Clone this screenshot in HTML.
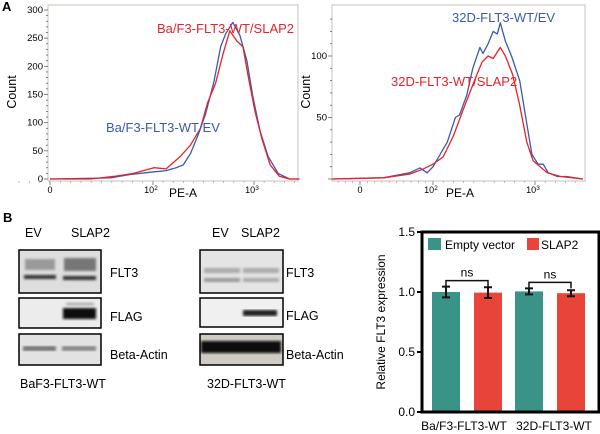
<!DOCTYPE html>
<html><head><meta charset="utf-8"><style>
html,body{margin:0;padding:0;background:#fff;width:600px;height:434px;overflow:hidden}
svg{display:block;font-family:"Liberation Sans",Arial,sans-serif}
</style></head><body>
<svg id="fig" width="600" height="434" viewBox="0 0 600 434">
<defs>
<filter id="blur1"><feGaussianBlur stdDeviation="1.4"/></filter>
</defs>
<text x="2" y="11" font-size="13" font-weight="bold">A</text>
<text x="3" y="222" font-size="13" font-weight="bold">B</text>
<g id="histL"></g>
<g id="histR"></g>

<g font-size="12.5">
<text x="25" y="237">EV</text>
<text x="71" y="237">SLAP2</text>
<rect x="19" y="250" width="82" height="43" fill="#dedede" stroke="#000" stroke-width="1.5"/>
<g filter="url(#blur1)">
<rect x="25" y="259" width="30" height="11" fill="#9a9a9a"/><rect x="64" y="258" width="32" height="13" fill="#767676"/>
<rect x="24" y="275" width="32" height="4" fill="#333"/><rect x="63" y="276" width="33" height="4" fill="#333"/>
</g>
<rect x="19" y="298" width="82" height="30" fill="#ececec" stroke="#000" stroke-width="1.5"/>
<g filter="url(#blur1)"><rect x="63" y="308" width="33" height="11" fill="#111"/><rect x="66" y="303" width="28" height="2" fill="#999"/></g>
<rect x="19" y="334" width="82" height="31" fill="#e2e2e2" stroke="#000" stroke-width="1.5"/>
<g filter="url(#blur1)"><rect x="23" y="346" width="33" height="5" fill="#777"/><rect x="62" y="346" width="34" height="5" fill="#888"/></g>
<text x="110" y="277">FLT3</text>
<text x="110" y="321">FLAG</text>
<text x="110" y="359">Beta-Actin</text>
<text x="20" y="388">BaF3-FLT3-WT</text>
</g>
<g font-size="12.5">
<text x="212" y="237">EV</text>
<text x="241" y="237">SLAP2</text>
<rect x="200" y="250" width="83" height="43" fill="#e4e4e4" stroke="#000" stroke-width="1.5"/>
<g filter="url(#blur1)"><rect x="204" y="268" width="36" height="5" fill="#aaa"/><rect x="243" y="268" width="36" height="5" fill="#aaa"/>
<rect x="204" y="278" width="36" height="4" fill="#999"/><rect x="243" y="278" width="36" height="4" fill="#aaa"/></g>
<rect x="200" y="298" width="83" height="29" fill="#f0f0f0" stroke="#000" stroke-width="1.5"/>
<g filter="url(#blur1)"><rect x="243" y="310" width="34" height="6" fill="#222"/></g>
<rect x="200" y="334" width="83" height="31" fill="#cfcac4" stroke="#000" stroke-width="1.5"/>
<g filter="url(#blur1)"><rect x="201" y="341" width="80" height="12" fill="#111"/></g>
<text x="286" y="277">FLT3</text>
<text x="286" y="320">FLAG</text>
<text x="286" y="359">Beta-Actin</text>
<text x="207" y="388">32D-FLT3-WT</text>
</g>
<g id="bar"></g>
</svg>
<script>
const NS='http://www.w3.org/2000/svg';
function mk(p,tag,at,txt){const e=document.createElementNS(NS,tag);for(const k in at)e.setAttribute(k,at[k]);if(txt!==undefined)e.textContent=txt;p.appendChild(e);return e;}

const leftRedX=[0,0.39,0.64,0.81,1.01,1.13,1.27,1.37,1.47,1.54,1.62,1.69,1.76,1.83,1.89,1.94,2.01,2.08,2.16,2.25,2.35,2.45];
const leftRedY=[0,0,5,10,20,18,40,60,90,135,170,220,263,245,235,185,120,70,25,5,0,0];
const leftBlueX=[0,0.59,0.78,0.98,1.13,1.23,1.30,1.37,1.44,1.52,1.60,1.67,1.72,1.79,1.86,1.93,1.99,2.06,2.14,2.24,2.35,2.45];
const leftBlueY=[0,2,8,12,15,20,25,45,75,115,170,235,258,278,255,210,145,85,40,10,0,0];
const rightBlueX=[-0.38,0.32,0.68,0.82,0.92,1.0,1.07,1.14,1.22,1.26,1.33,1.39,1.46,1.49,1.54,1.59,1.63,1.66,1.71,1.77,1.85,1.92,1.97,2.03,2.08,2.13,2.22,2.31,2.47];
const rightBlueY=[0,1,5,9,5,10,20,30,50,52,68,90,107,102,110,120,118,127,112,100,80,45,20,12,12,5,2,2,0];
const rightRedX=[-0.38,0.32,0.68,0.86,1.0,1.10,1.20,1.29,1.36,1.43,1.48,1.54,1.59,1.66,1.71,1.78,1.85,1.92,1.98,2.05,2.12,2.25,2.47];
const rightRedY=[0,1,4,8,12,18,35,55,70,85,95,100,98,107,100,85,60,30,15,10,5,2,0];
const leftYTicks=[0,50,100,150,200,250,300];
const rightYTicks=[0,50,100];

function hist(g,o){
  const sx=t=>t<1?o.x0+(o.x1-o.x0)*t:o.x1+(o.x2-o.x1)*(t-1);
  const sy=v=>o.yb-v*o.ppu;
  mk(g,'rect',{x:o.L,y:5,width:o.R-o.L,height:o.yb+2-5,fill:'none',stroke:'#c8c0b8','stroke-width':1,});
  for(let v=0;v<=o.ymax;v+=o.minor){mk(g,'line',{x1:o.L-(v%o.major===0?4:2),x2:o.L,y1:sy(v),y2:sy(v),stroke:'#666','stroke-width':0.8});}
  o.yt.forEach(v=>{mk(g,'text',{x:o.L-5,y:sy(v)+3,'font-size':9.5,'text-anchor':'end',},String(v));});
  [[0,'0'],[1,'10'],[2,'10']].forEach(([t,s],i)=>{const e=mk(g,'text',{x:sx(t)-(i?2:0),y:o.yb+14,'font-size':9,'text-anchor':'middle',},s);if(i){mk(e,'tspan',{dy:-3,'font-size':6.5},i===1?'2':'3');}
    mk(g,'line',{x1:sx(t),x2:sx(t),y1:o.yb+2,y2:o.yb+6,stroke:'#666','stroke-width':0.8});});
  for(let t=-0.3;t<2.5;t+=0.1){mk(g,'line',{x1:sx(t),x2:sx(t),y1:o.yb+2,y2:o.yb+4,stroke:'#999','stroke-width':0.6});}
  mk(g,'text',{x:o.px,y:o.yb+18,'font-size':12,'text-anchor':'middle',},'PE-A');
  mk(g,'text',{x:0,y:0,'font-size':12.5,'text-anchor':'middle',transform:`translate(${o.cx},${(5+o.yb)/2}) rotate(-90)`,},'Count');
  o.series.forEach(s=>{const d=s.x.map((t,i)=>(i?'L':'M')+sx(t).toFixed(1)+','+sy(s.y[i]).toFixed(1)).join('');
    mk(g,'path',{d,fill:'none',stroke:s.c,'stroke-width':1.3,'stroke-linejoin':'round',});});
  o.labels.forEach(l=>mk(g,'text',{x:l[0],y:l[1],'font-size':13,fill:l[3],},l[2]));
}
hist(document.getElementById('histL'),{L:48,R:298,x0:50,x1:153,x2:254,yb:179,ppu:169/300,ymax:300,minor:10,major:50,yt:leftYTicks,px:183,cx:16,
  series:[{x:leftBlueX,y:leftBlueY,c:'#3b5ba8',n:'ev-histogram-line'},{x:leftRedX,y:leftRedY,c:'#e8222a',n:'slap2-histogram-line'}],
  labels:[[157,33,'Ba/F3-FLT3-WT/SLAP2','#e8222a','slap2-series-label'],[106,132,'Ba/F3-FLT3-WT/EV','#3b5ba8','ev-series-label']]});
hist(document.getElementById('histR'),{L:332,R:585,x0:360,x1:433,x2:535,yb:179,ppu:123/100,ymax:130,minor:10,major:50,yt:rightYTicks.slice(1),px:460,cx:310,
  series:[{x:rightBlueX,y:rightBlueY,c:'#3b5ba8',n:'ev-histogram-line'},{x:rightRedX,y:rightRedY,c:'#e8222a',n:'slap2-histogram-line'}],
  labels:[[452,22,'32D-FLT3-WT/EV','#3b5ba8','ev-series-label'],[391,86,'32D-FLT3-WT/SLAP2','#e8222a','slap2-series-label']]});

const barGroups=['Ba/F3-FLT3-WT','32D-FLT3-WT'];
const evValues=[1.0,1.005];
const slapValues=[0.995,0.99];
const evErr=[0.045,0.025];
const slapErr=[0.045,0.025];
const barTicks=[0.0,0.5,1.0,1.5];
(function(){
  const g=document.getElementById('bar');
  const L=422,T=232,B=412,R=599;
  const sy=v=>B-(B-T)*v/1.5;
  const gx=[432,515],bw=28,gap=42;
  mk(g,'rect',{x:L,y:T,width:R-L,height:B-T,fill:'none',stroke:'#000','stroke-width':3,});
  barTicks.forEach(v=>{mk(g,'line',{x1:L-5,x2:L,y1:sy(v),y2:sy(v),stroke:'#000','stroke-width':2});
    mk(g,'text',{x:L-7,y:sy(v)+4,'font-size':12,'text-anchor':'end',},v.toFixed(1));});
  mk(g,'text',{x:0,y:0,'font-size':12,'text-anchor':'middle',transform:`translate(385,322) rotate(-90)`,},'Relative FLT3 expression');
  barGroups.forEach((c,i)=>{
    const sets=[[evValues[i],evErr[i],'#3a9387','bar-empty-vector'],[slapValues[i],slapErr[i],'#e8443a','bar-slap2']];
    sets.forEach((s,j)=>{const x=gx[i]+j*gap;
      const r=mk(g,'rect',{x,y:sy(s[0]),width:bw,height:B-1.5-sy(s[0]),fill:s[2]});
      
      
      const cx=x+bw/2;
      mk(g,'path',{d:`M${cx},${sy(s[0]+s[1])}V${sy(s[0]-s[1])}M${cx-4},${sy(s[0]+s[1])}h8M${cx-4},${sy(s[0]-s[1])}h8`,stroke:'#111','stroke-width':2,fill:'none',});});
    const c1=gx[i]+bw/2,c2=gx[i]+gap+bw/2,top=sy(Math.max(evValues[i]+evErr[i],slapValues[i]+slapErr[i]))-6;
    mk(g,'path',{d:`M${c1},${top+6}V${top}H${c2}V${top+6}`,stroke:'#111','stroke-width':1.5,fill:'none',});
    mk(g,'text',{x:(c1+c2)/2,y:top-4,'font-size':12,'text-anchor':'middle',},'ns');
    mk(g,'text',{x:(gx[i]+gap/2+bw/2)+(i?4:-3),y:430,'font-size':12,'text-anchor':'middle',},c);
  });
  mk(g,'rect',{x:428,y:238,width:13,height:12,fill:'#3a9387',});
  mk(g,'text',{x:445,y:249,'font-size':12,},'Empty vector');
  mk(g,'rect',{x:527,y:238,width:12,height:12,fill:'#e8443a',});
  mk(g,'text',{x:541,y:249,'font-size':12,},'SLAP2');
})();
</script>
</body></html>
